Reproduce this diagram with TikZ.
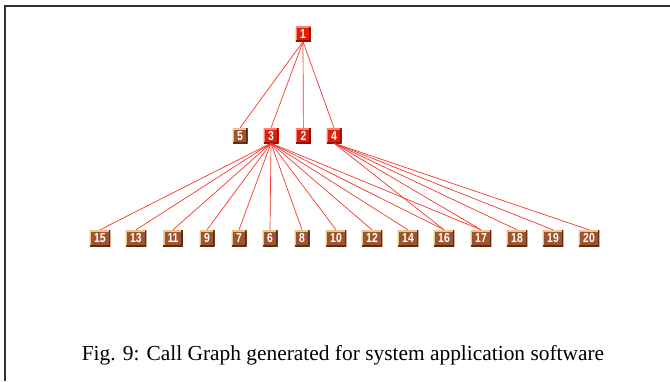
\documentclass[tikz,border=0pt]{standalone}
\usepackage{fontspec}
\setmainfont{Liberation Serif}
\newfontfamily\boxfont[FakeStretch=0.8]{Liberation Sans}
\definecolor{callred}{RGB}{222,32,10}
\definecolor{callredhi}{RGB}{245,135,120}
\definecolor{callredlo}{RGB}{150,12,0}
\definecolor{callbrown}{RGB}{158,84,48}
\definecolor{callbrownhi}{RGB}{232,198,140}
\definecolor{callbrownlo}{RGB}{95,45,22}
\definecolor{calledge}{RGB}{245,55,45}
\tikzset{
    fn/.style={draw=none, inner xsep=4.5pt, inner ysep=0pt, minimum width=15pt, minimum height=15pt,
        text=white, text height=9.3pt, text depth=0pt, font=\boxfont\bfseries\fontsize{13}{13}\selectfont,
        path picture={
            \draw[line width=3pt, #1hi](path picture bounding box.south west)--(path picture bounding box.north west)--(path picture bounding box.north east);
            \draw[line width=3pt, #1lo](path picture bounding box.south west)--(path picture bounding box.south east)--(path picture bounding box.north east);
        }},
    hot/.style={fn=callred, fill=callred},
    leaf/.style={fn=callbrown, fill=callbrown, minimum height=16pt},
    call/.style={calledge, line width=.7pt}
}
\begin{document}
\begin{tikzpicture}[x=1pt, y=-1pt]
    \useasboundingbox (0,0) rectangle (670,381);
    \draw[line width=2pt, black!80](5,381)--(5,6)--(670,6);

    \node[hot] (n1) at (303,34) {1};
    \node[leaf, minimum height=15pt] (n5) at (240,135.5) {5};
    \node[hot] (n3) at (271,135.5) {3};
    \node[hot] (n2) at (303.4,135.5) {2};
    \node[hot] (n4) at (334,135.5) {4};

\foreach \n/\x in {15/100,13/136,11/173,9/207,7/239,6/270,8/302,10/336,12/372,14/408,16/444,17/481,18/517,19/553,20/589}
{
    \node[leaf] (n\n) at (\x,238) {\n};
}

\foreach \n in {5,3,2,4}
{
    \draw[call](n1.south)--(n\n.north);
}
\foreach \n in {15,13,11,9,7,6,8,10,12,14,16,17}
{
    \draw[call](n3.south)--(n\n.north);
}
\foreach \n in {16,17,18,19,20}
{
    \draw[call](n4.south)--(n\n.north);
}

\node (cap) at (343,355) {\fontsize{21.4}{24}\selectfont Fig. 9: Call Graph generated for system application software};
\end{tikzpicture}
\end{document}
